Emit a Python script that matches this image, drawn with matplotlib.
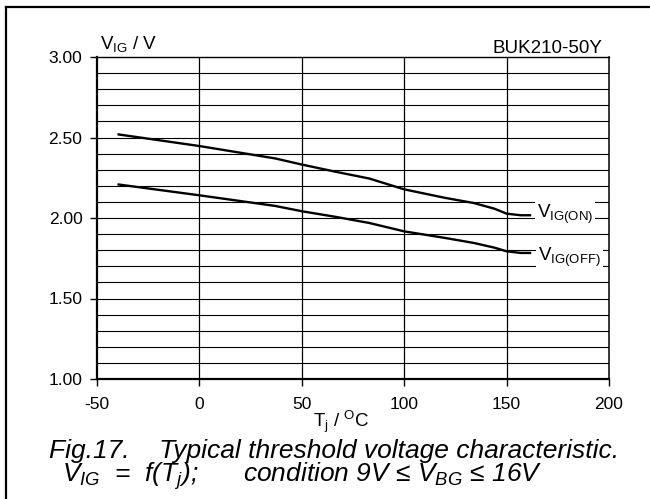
import numpy as np
import matplotlib
matplotlib.use("Agg")
import matplotlib.pyplot as plt
from matplotlib.lines import Line2D

# === DATA ===
tj = [-40, 0, 37, 50, 67, 83, 100, 120, 134, 144, 150, 157, 162]
vig_on = [2.52, 2.447, 2.37, 2.332, 2.286, 2.245, 2.178, 2.125, 2.093, 2.058, 2.027, 2.017, 2.017]
vig_off = [2.209, 2.141, 2.075, 2.042, 2.006, 1.969, 1.917, 1.876, 1.845, 1.816, 1.793, 1.783, 1.783]

x_ticks = [-50, 0, 50, 100, 150, 200]
y_ticks = [1.00, 1.50, 2.00, 2.50, 3.00]
y_minor = [round(1.0 + 0.1 * i, 1) for i in range(1, 20)]

# === STYLE ===
plt.rcParams['font.family'] = ['Liberation Sans', 'DejaVu Sans']
plt.rcParams['mathtext.fontset'] = 'custom'
plt.rcParams['mathtext.rm'] = 'Liberation Sans'
plt.rcParams['mathtext.it'] = 'Liberation Sans:italic'
plt.rcParams['mathtext.bf'] = 'Liberation Sans:bold'

W, H = 650, 499
fig = plt.figure(figsize=(W / 100, H / 100), dpi=100)

def fx(px):
    return px / W

def fy(py):
    return 1 - py / H

ax = fig.add_axes([fx(97), fy(379), (609 - 97) / W, (379 - 57) / H])

ax.plot(tj, vig_on, color='black', lw=1.7, zorder=3, solid_capstyle='butt')
ax.plot(tj, vig_off, color='black', lw=1.7, zorder=3, solid_capstyle='butt')

ax.set_xlim(-50, 200)
ax.set_ylim(1.0, 3.0)
ax.set_xticks(x_ticks)
ax.set_xticklabels([str(v) for v in x_ticks])
ax.set_yticks(y_ticks)
ax.set_yticklabels([f"{v:.2f}" for v in y_ticks])
ax.set_yticks(y_minor, minor=True)

ax.tick_params(axis='both', which='major', direction='out', length=5, width=1,
               labelsize=12.5, color='black')
ax.tick_params(axis='y', which='major', pad=5.5)
ax.tick_params(axis='x', which='major', pad=8)
ax.tick_params(axis='y', which='minor', length=0)

# grid
for v in y_minor:
    ax.axhline(v, color='black', lw=0.8, zorder=1)
for v in x_ticks[1:-1]:
    ax.axvline(v, color='black', lw=0.9, zorder=1)

ax.spines['left'].set_linewidth(1.6)
ax.spines['bottom'].set_linewidth(1.6)
ax.spines['top'].set_linewidth(1.0)
ax.spines['right'].set_linewidth(1.1)

# curve labels
box = dict(facecolor='white', edgecolor='none', pad=1.5)
ax.text(164.7, 1.998, r'V$_\mathrm{IG(ON)}$', fontsize=13.5, ha='left', va='baseline',
        bbox=box, zorder=4)
ax.text(165.2, 1.733, r'V$_\mathrm{IG(OFF)}$', fontsize=13.5, ha='left', va='baseline',
        bbox=box, zorder=4)

# axis titles
fig.text(fx(100), fy(48.5), r'V$_\mathrm{IG}$ / V', fontsize=13.5, ha='left', va='baseline')
fig.text(fx(602), fy(53), 'BUK210-50Y', fontsize=13.5, ha='right', va='baseline')
fig.text(fx(313), fy(427), r'T$_\mathrm{j}$ / $^\mathrm{O}$C', fontsize=13.5, ha='left', va='baseline')

# caption
fig.text(fx(49), fy(458), 'Fig.17.    Typical threshold voltage characteristic.',
         fontsize=19, style='italic', ha='left', va='baseline')
fig.text(fx(62), fy(482), r'$V_{IG}$  =  f($T_j$);',
         fontsize=19, style='italic', ha='left', va='baseline')
fig.text(fx(542), fy(482), r'condition 9V ≤ $V_{BG}$ ≤ 16V',
         fontsize=19, style='italic', ha='right', va='baseline')

# outer frame (cut off at right and bottom)
fig.add_artist(Line2D([fx(6), fx(6)], [fy(7), 0], transform=fig.transFigure,
                      color='black', lw=1.6))
fig.add_artist(Line2D([fx(6), 1], [fy(7), fy(7)], transform=fig.transFigure,
                      color='black', lw=1.6))

fig.savefig('out.png', dpi=100)
